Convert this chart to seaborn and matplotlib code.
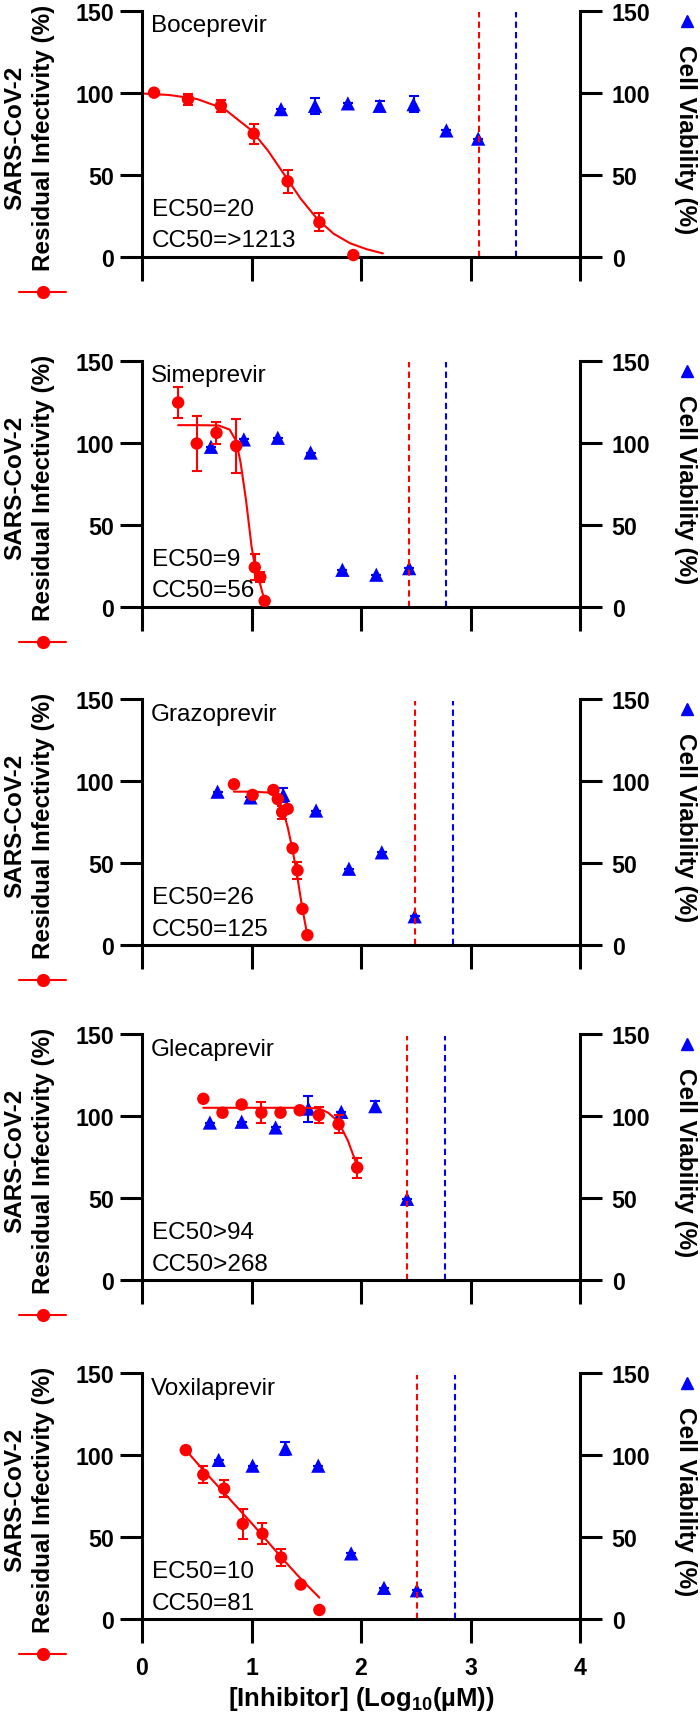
import matplotlib
matplotlib.use("Agg")
import matplotlib.pyplot as plt
from matplotlib.lines import Line2D
import seaborn as sns

# ── Style ────────────────────────────────────────────────────
sns.set_theme(style="ticks")
plt.rcParams["font.family"] = ["Liberation Sans", "DejaVu Sans"]
plt.rcParams["font.weight"] = "bold"
plt.rcParams["axes.labelweight"] = "bold"
plt.rcParams["mathtext.fontset"] = "custom"
plt.rcParams["mathtext.bf"] = "Liberation Sans:bold"
plt.rcParams["mathtext.rm"] = "Liberation Sans:bold"
for key in ["text.color", "axes.labelcolor", "axes.edgecolor", "xtick.color", "ytick.color"]:
    plt.rcParams[key] = "black"

RED = "#ff0000"
BLUE = "#0000ff"

# ── Data ─────────────────────────────────────────────────────
drugs = ["Boceprevir", "Simeprevir", "Grazoprevir", "Glecaprevir", "Voxilaprevir"]
ec50_labels = ["EC50=20", "EC50=9", "EC50=26", "EC50>94", "EC50=10"]
cc50_labels = ["CC50=>1213", "CC50=56", "CC50=125", "CC50>268", "CC50=81"]
ec50_lines = [3.08, 2.44, 2.49, 2.42, 2.515]   # red dashed
cc50_lines = [3.42, 2.78, 2.84, 2.765, 2.86]   # blue dashed

# Boceprevir
boc_inf_x = [0.11, 0.42, 0.72, 1.02, 1.33, 1.62, 1.93]
boc_inf_y = [100, 96, 92, 75, 46, 21, 1]
boc_inf_err = [1, 3.5, 3.5, 6, 7, 5.5, 0]
boc_fit_x = [0.0, 0.25, 0.5, 0.75, 1.0, 1.15, 1.3, 1.45, 1.6, 1.75, 1.9, 2.05, 2.2]
boc_fit_y = [99.5, 98.6, 96.2, 90.2, 77, 64.7, 50, 35.3, 23, 14, 8.2, 4.6, 2.0]
boc_via_x = [1.27, 1.58, 1.88, 2.17, 2.48, 2.78, 3.07]
boc_via_y = [90, 92, 93.5, 92, 93, 77, 72]
boc_via_err = [0, 5, 0, 3, 5, 0, 0]

# Simeprevir
sim_inf_x = [0.33, 0.50, 0.68, 0.86, 1.03, 1.08, 1.12]
sim_inf_y = [124.5, 99.5, 106, 98, 24, 18, 3.5]
sim_inf_err = [9.5, 17, 6.5, 16.5, 8, 3, 0]
sim_fit_x = [0.33, 0.5, 0.7, 0.8, 0.86, 0.9, 0.95, 1.0, 1.03, 1.07, 1.12]
sim_fit_y = [110.7, 110.7, 110.5, 108, 101, 88, 65, 37, 25, 16, 3.5]
sim_via_x = [0.63, 0.93, 1.24, 1.54, 1.83, 2.14, 2.44]
sim_via_y = [97.5, 102, 103, 94, 22.5, 19.5, 23.5]
sim_via_err = [0, 0, 0, 0, 0, 0, 0]

# Grazoprevir
gra_inf_x = [0.84, 1.01, 1.20, 1.24, 1.28, 1.33, 1.375, 1.42, 1.465, 1.51]
gra_inf_y = [98, 91.5, 94.5, 89, 81, 83, 59, 45.5, 22, 6]
gra_inf_err = [0, 0, 0, 0, 4, 0, 0, 5, 0, 0]
gra_fit_x = [0.84, 1.0, 1.15, 1.22, 1.28, 1.33, 1.375, 1.42, 1.465, 1.51]
gra_fit_y = [93.5, 93.5, 93, 91, 84, 72, 58, 41, 22, 6]
gra_via_x = [0.69, 0.99, 1.29, 1.59, 1.89, 2.19, 2.49]
gra_via_y = [93.5, 90, 91.5, 82, 46.5, 56.5, 17.5]
gra_via_err = [0, 0, 4, 0, 0, 0, 0]

# Glecaprevir
gle_inf_x = [0.56, 0.735, 0.91, 1.09, 1.265, 1.44, 1.615, 1.795, 1.965]
gle_inf_y = [110.5, 102, 107, 102, 102, 103.5, 100.5, 95, 68.5]
gle_inf_err = [0, 0, 0, 6.5, 0, 0, 5, 5.5, 6]
gle_fit_x = [0.56, 1.0, 1.5, 1.62, 1.7, 1.76, 1.82, 1.88, 1.93, 1.97]
gle_fit_y = [105, 105, 105, 104.5, 102, 98.5, 93, 85, 76, 68.5]
gle_via_x = [0.62, 0.91, 1.22, 1.52, 1.82, 2.13, 2.42]
gle_via_y = [96, 96.5, 93, 104.5, 102.5, 106, 49.5]
gle_via_err = [0, 0, 0, 8, 0, 3, 0]

# Voxilaprevir
vox_inf_x = [0.40, 0.56, 0.75, 0.92, 1.10, 1.27, 1.45, 1.62]
vox_inf_y = [103, 88, 79.5, 58, 52, 37.5, 21, 5.5]
vox_inf_err = [0, 5, 5, 9, 6.5, 5, 0, 0]
vox_fit_x = [0.40, 0.55, 0.7, 0.85, 1.0, 1.15, 1.3, 1.45, 1.62]
vox_fit_y = [103, 91.5, 80.5, 69.5, 58.5, 47, 35.5, 24.5, 13]
vox_via_x = [0.70, 1.01, 1.31, 1.61, 1.91, 2.21, 2.51]
vox_via_y = [97, 93.5, 104, 93.5, 40, 19, 17.5]
vox_via_err = [0, 0, 4, 0, 0, 0, 0]

panels = [
    (boc_inf_x, boc_inf_y, boc_inf_err, boc_fit_x, boc_fit_y, boc_via_x, boc_via_y, boc_via_err),
    (sim_inf_x, sim_inf_y, sim_inf_err, sim_fit_x, sim_fit_y, sim_via_x, sim_via_y, sim_via_err),
    (gra_inf_x, gra_inf_y, gra_inf_err, gra_fit_x, gra_fit_y, gra_via_x, gra_via_y, gra_via_err),
    (gle_inf_x, gle_inf_y, gle_inf_err, gle_fit_x, gle_fit_y, gle_via_x, gle_via_y, gle_via_err),
    (vox_inf_x, vox_inf_y, vox_inf_err, vox_fit_x, vox_fit_y, vox_via_x, vox_via_y, vox_via_err),
]

# ── Layout (pixels of a 700 x 1724 canvas) ───────────────────
W, H = 700, 1724
AX_LEFT, AX_W, AX_H = 142, 438, 246
PANEL_TOP = [11.7, 361.7, 700, 1035, 1374]
LW = 2.2

fig = plt.figure(figsize=(W / 100, H / 100), dpi=100)

for i, (inf_x, inf_y, inf_err, fit_x, fit_y, via_x, via_y, via_err) in enumerate(panels):
    top = PANEL_TOP[i]
    ax = fig.add_axes([AX_LEFT / W, 1 - (top + AX_H) / H, AX_W / W, AX_H / H])
    ax2 = ax.twinx()
    ax.set_zorder(ax2.get_zorder() + 1)
    ax.patch.set_visible(False)

    for a in (ax, ax2):
        a.set_xlim(0, 4)
        a.set_ylim(0, 150)
        a.set_yticks([0, 50, 100, 150])
        a.grid(False)

    # cutoff lines
    ax.axvline(ec50_lines[i], ymax=0.993, color=RED, lw=1.5, ls=(0, (3, 2)), zorder=1)
    ax.axvline(cc50_lines[i], ymax=0.993, color=BLUE, lw=1.5, ls=(0, (3, 2)), zorder=1)

    # cell viability (right axis)
    ax2.errorbar(via_x, via_y, yerr=via_err, fmt="none", ecolor=BLUE,
                 elinewidth=1.5, capsize=3.5, capthick=1.5)
    sns.scatterplot(x=via_x, y=via_y, ax=ax2, color=BLUE, marker="^", s=105,
                    edgecolor="none", zorder=3, clip_on=False)

    # residual infectivity (left axis)
    sns.lineplot(x=fit_x, y=fit_y, ax=ax, color=RED, lw=1.5, zorder=2)
    ax.errorbar(inf_x, inf_y, yerr=inf_err, fmt="none", ecolor=RED,
                elinewidth=1.5, capsize=3.5, capthick=1.5, zorder=3)
    sns.scatterplot(x=inf_x, y=inf_y, ax=ax, color=RED, marker="o", s=80,
                    edgecolor="none", zorder=4, clip_on=False)

    # texts
    ax.text(0.08, 141, drugs[i], fontsize=17.5, fontweight="normal", va="center")
    ax.text(0.09, 29, ec50_labels[i], fontsize=17.5, fontweight="normal", va="center")
    ax.text(0.09, 10, cc50_labels[i], fontsize=17.5, fontweight="normal", va="center")

    # spines & ticks
    ax.spines[["top", "right"]].set_visible(False)
    ax2.spines[["top", "left", "bottom"]].set_visible(False)
    ax.spines["left"].set_linewidth(LW)
    ax.spines["bottom"].set_linewidth(LW)
    ax2.spines["right"].set_linewidth(LW)
    ax.set_xticks([0, 1, 2, 3, 4])
    ax.tick_params(axis="x", direction="out", length=17.3, width=LW, labelsize=16.7, pad=9)
    ax.tick_params(axis="y", direction="out", length=15.8, width=LW, labelsize=16.7, pad=4.3)
    ax2.tick_params(axis="y", direction="out", length=15.8, width=LW, labelsize=16.7, pad=7)
    if i < len(panels) - 1:
        ax.tick_params(axis="x", labelbottom=False)
    else:
        ax.set_xlabel(r"[Inhibitor] (Log$_{\mathbf{10}}$(µM))", fontsize=18.5, va="center")
        ax.xaxis.set_label_coords(0.5, -79 / AX_H)

    ax.set_ylabel("SARS-CoV-2\nResidual Infectivity (%)", fontsize=17.5,
                  linespacing=1.3, va="center", ha="center")
    ax.yaxis.set_label_coords((29 - AX_LEFT) / AX_W, 0.487)
    ax2.set_ylabel("Cell Viability (%)", fontsize=17.5, rotation=270,
                   va="center", ha="center")
    ax2.yaxis.set_label_coords((686 - AX_LEFT) / AX_W, 0.482)

    # series keys attached to the axis titles
    ax.legend(handles=[Line2D([], [], color=RED, lw=1.5, marker="o", markersize=8.5)],
              labels=[""], loc="center", bbox_to_anchor=((42.7 - AX_LEFT) / AX_W, -0.145),
              frameon=False, handlelength=3.4, handletextpad=0, borderpad=0,
              borderaxespad=0, fontsize=10)
    ax2.legend(handles=[Line2D([], [], color=BLUE, ls="none", marker="^", markersize=8)],
               labels=[""], loc="center", bbox_to_anchor=((687 - AX_LEFT) / AX_W, 0.955),
               frameon=False, handlelength=1, handletextpad=0, borderpad=0,
               borderaxespad=0, fontsize=10)

plt.savefig("out.png", dpi=100)
